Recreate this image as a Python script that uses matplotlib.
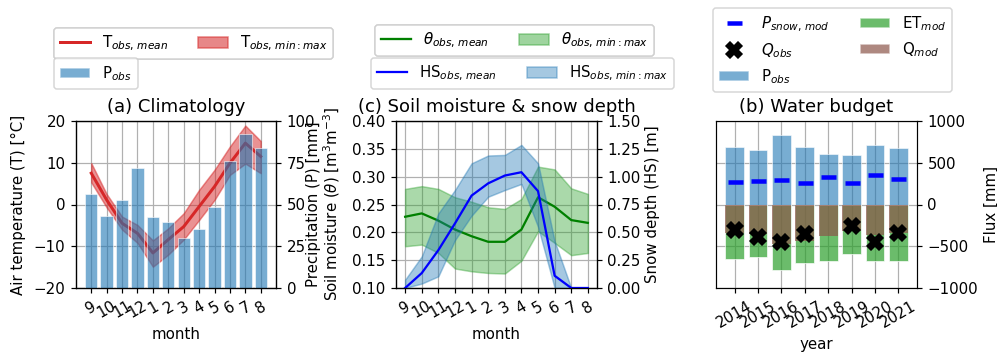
import numpy as np
import matplotlib
matplotlib.use("Agg")
import matplotlib.pyplot as plt
from matplotlib.patches import Patch
from matplotlib.lines import Line2D

# ---------------- data ----------------
months = ["9", "10", "11", "12", "1", "2", "3", "4", "5", "6", "7", "8"]

t_mean = [7.5, 1.1, -4.5, -6.9, -11.6, -8.4, -5.3, -0.5, 4.3, 9.9, 14.7, 11.5]
t_max = [9.9, 2.5, -2.9, -4.9, -8.6, -5.7, -2.1, 3.5, 8.3, 13.9, 18.9, 15.2]
t_min = [5.3, -0.7, -6.0, -9.2, -14.9, -12.0, -8.4, -3.7, 1.1, 7.1, 9.8, 7.5]
p_month = [56.4, 43.4, 52.6, 72.1, 42.8, 39.6, 30.1, 35.1, 48.6, 76.1, 92.2, 84.1]

theta_mean = [0.228, 0.234, 0.221, 0.205, 0.193, 0.183, 0.183, 0.205, 0.263, 0.246, 0.222, 0.217]
theta_max = [0.278, 0.283, 0.278, 0.263, 0.255, 0.245, 0.242, 0.260, 0.318, 0.313, 0.279, 0.269]
theta_min = [0.175, 0.178, 0.163, 0.135, 0.130, 0.127, 0.126, 0.149, 0.202, 0.181, 0.159, 0.163]

hs_mean = [0.0, 0.134, 0.34, 0.58, 0.83, 0.94, 1.01, 1.04, 0.87, 0.11, 0.0, 0.0]
hs_max = [0.075, 0.284, 0.67, 0.88, 1.12, 1.19, 1.195, 1.285, 1.12, 0.42, 0.0, 0.0]
hs_min = [0.0, 0.04, 0.105, 0.43, 0.65, 0.82, 0.88, 0.935, 0.55, 0.0, 0.0, 0.0]

years = ["2014", "2015", "2016", "2017", "2018", "2019", "2020", "2021"]
p_year = [685, 653, 833, 685, 602, 590, 717, 673]
psnow_mod = [275, 287, 295, 259, 335, 263, 355, 303]
q_mod = [-345, -357, -473, -433, -377, -317, -365, -343]
et_q_mod = [-649, -625, -780, -705, -673, -597, -677, -681]
q_obs = [-303, -390, -450, -359, np.nan, -255, -450, -343]

# ---------------- figure ----------------
W, H = 997, 355
DPI = 108
fig = plt.figure(figsize=(W / DPI, H / DPI), dpi=DPI)

def pos(x0, x1, y0, y1):
    return [x0 / W, 1 - y1 / H, (x1 - x0) / W, (y1 - y0) / H]

grid_kw = dict(color="#b0b0b0", lw=0.8)

# ----- (a) Climatology -----
ax1 = fig.add_axes(pos(76, 276, 121, 288))
xm = np.arange(len(months))
ax1.fill_between(xm, t_min, t_max, color="tab:red", alpha=0.5)
ax1.plot(xm, t_mean, color="tab:red", lw=2)
ax1.set_ylim(-20, 20)
ax1.set_yticks([-20, -10, 0, 10, 20])
ax1.set_ylabel("Air temperature (T) [°C]")
ax1.yaxis.set_label_coords(-0.25, 0.5)
ax1.grid(True, **grid_kw)
ax1.set_axisbelow(True)
ax2 = ax1.twinx()
ax2.bar(xm, p_month, width=0.8, color="tab:blue", alpha=0.6, edgecolor="white", lw=0.6)
ax2.set_ylim(0, 100)
ax2.set_yticks([0, 25, 50, 75, 100])
ax2.set_ylabel("Precipitation (P) [mm]")
ax2.yaxis.set_label_coords(1.15, 0.5)
ax1.set_xticks(xm)
ax1.set_xticklabels(months, rotation=30)
ax1.set_xlabel("month")
ax1.set_title("(a) Climatology", fontsize=12)

leg_a1 = ax1.legend(handles=[Line2D([], [], color="tab:red", lw=2),
                             Patch(facecolor="tab:red", alpha=0.5, edgecolor="tab:red")],
                    labels=[r"T$_{obs,\,mean}$", r"T$_{obs,\,min:max}$"],
                    ncol=2, loc="upper left", bbox_to_anchor=(54 / W, 1 - 28 / H),
                    bbox_transform=fig.transFigure, borderaxespad=0)
ax1.add_artist(leg_a1)
leg_a2 = ax2.legend(handles=[Patch(facecolor="tab:blue", alpha=0.6, edgecolor="white")],
                    labels=[r"P$_{obs}$"],
                    loc="upper left", bbox_to_anchor=(54 / W, 1 - 58 / H),
                    bbox_transform=fig.transFigure, borderaxespad=0)

# ----- (c) Soil moisture & snow depth -----
ax3 = fig.add_axes(pos(396, 597, 121, 288))
ax3.fill_between(xm, theta_min, theta_max, color="tab:green", alpha=0.4)
ax3.plot(xm, theta_mean, color="green", lw=1.5)
ax3.set_ylim(0.10, 0.40)
ax3.set_yticks(np.arange(0.10, 0.401, 0.05))
ax3.yaxis.set_major_formatter(matplotlib.ticker.FormatStrFormatter("%.2f"))
ax3.set_ylabel(r"Soil moisture ($\theta$) [m$^3$m$^{-3}$]")
ax3.yaxis.set_label_coords(-0.27, 0.5)
ax3.grid(True, **grid_kw)
ax3.set_axisbelow(True)
ax4 = ax3.twinx()
ax4.fill_between(xm, hs_min, hs_max, color="tab:blue", alpha=0.4)
ax4.plot(xm, hs_mean, color="blue", lw=1.5)
ax4.set_ylim(0, 1.5)
ax4.set_yticks(np.arange(0, 1.501, 0.25))
ax4.yaxis.set_major_formatter(matplotlib.ticker.FormatStrFormatter("%.2f"))
ax4.set_ylabel("Snow depth (HS) [m]")
ax4.yaxis.set_label_coords(1.24, 0.5)
ax3.set_xticks(xm)
ax3.set_xticklabels(months, rotation=30)
ax3.set_xlabel("month")
ax3.set_title("(c) Soil moisture & snow depth", fontsize=12)

leg_c1 = ax3.legend(handles=[Line2D([], [], color="green", lw=1.5),
                             Patch(facecolor="tab:green", alpha=0.4, edgecolor="tab:green")],
                    labels=[r"$\theta_{obs,\,mean}$", r"$\theta_{obs,\,min:max}$"],
                    ncol=2, loc="upper left", bbox_to_anchor=(375 / W, 1 - 25 / H),
                    bbox_transform=fig.transFigure, borderaxespad=0)
ax3.add_artist(leg_c1)
leg_c2 = ax4.legend(handles=[Line2D([], [], color="blue", lw=1.5),
                             Patch(facecolor="tab:blue", alpha=0.4, edgecolor="tab:blue")],
                    labels=[r"HS$_{obs,\,mean}$", r"HS$_{obs,\,min:max}$"],
                    ncol=2, loc="upper left", bbox_to_anchor=(371 / W, 1 - 58 / H),
                    bbox_transform=fig.transFigure, borderaxespad=0)

# ----- (b) Water budget -----
ax5 = fig.add_axes(pos(716, 917, 121, 288))
xy = np.arange(len(years))
ax5.grid(True, **grid_kw)
ax5.set_axisbelow(True)
ax5.bar(xy, p_year, width=0.8, color="tab:blue", alpha=0.6, edgecolor="white", lw=0.6)
ax5.bar(xy, et_q_mod, width=0.8, color="tab:green", alpha=0.7, edgecolor="white", lw=0.6)
ax5.bar(xy, q_mod, width=0.8, color="tab:brown", alpha=0.7, lw=0)
ax5.plot(xy, psnow_mod, ls="none", marker="_", color="blue", ms=10, mew=3)
ax5.plot(xy, q_obs, ls="none", marker="X", color="black", ms=11)
ax5.set_ylim(-1000, 1000)
ax5.set_yticks([-1000, -500, 0, 500, 1000])
ax5.yaxis.tick_right()
ax5.yaxis.set_label_position("right")
ax5.set_ylabel("Flux [mm]")
ax5.yaxis.set_label_coords(1.33, 0.5)
ax5.set_xticks(xy)
ax5.set_xticklabels(years, rotation=30)
ax5.set_xlabel("year")
ax5.set_title("(b) Water budget", fontsize=12)

ax5.legend(handles=[Line2D([], [], ls="none", marker="_", color="blue", ms=10, mew=3),
                    Line2D([], [], ls="none", marker="X", color="black", ms=11),
                    Patch(facecolor="tab:blue", alpha=0.6, edgecolor="white"),
                    Patch(facecolor="tab:green", alpha=0.7, edgecolor="white"),
                    Patch(facecolor="tab:brown", alpha=0.7, edgecolor="white")],
           labels=[r"$P_{snow,\,mod}$", r"$Q_{obs}$", r"P$_{obs}$", r"ET$_{mod}$", r"Q$_{mod}$"],
           ncol=2, loc="upper left", bbox_to_anchor=(713 / W, 1 - 8 / H),
           bbox_transform=fig.transFigure, borderaxespad=0)

fig.savefig("out.png", dpi=DPI)
